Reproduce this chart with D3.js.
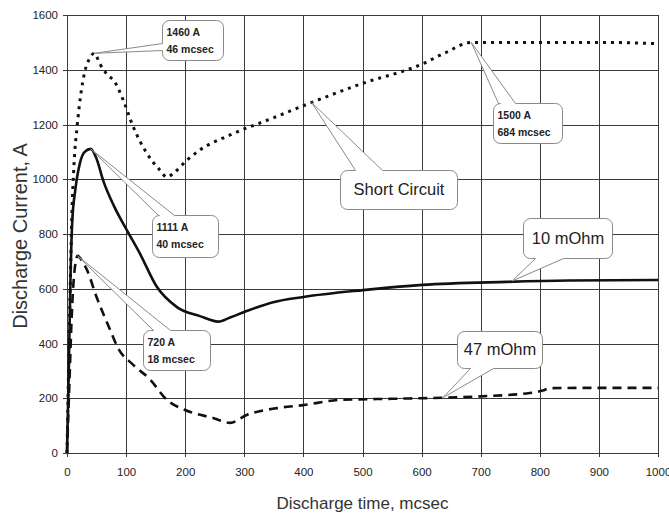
<!DOCTYPE html>
<html>
<head>
<meta charset="utf-8">
<script src="https://cdn.jsdelivr.net/npm/d3@7/dist/d3.min.js"></script>
<style>
  html, body { margin: 0; padding: 0; background: #fff; }
  svg { display: block; font-family: Arial, "Liberation Sans", sans-serif; }
</style>
</head>
<body>
<svg id="chart" width="669" height="516"></svg>
<script>
// Axis ticks
const xTicks = [0, 100, 200, 300, 400, 500, 600, 700, 800, 900, 1000];
const yTicks = [0, 200, 400, 600, 800, 1000, 1200, 1400, 1600];

// Short circuit discharge (time in mcsec, current in A)
const shortTime    = [0, 4, 8, 12, 17, 24, 30, 38, 46, 56, 67, 81, 95, 112, 135, 157, 169, 180, 203, 225, 276, 350, 411, 500, 600, 640, 684, 750, 800, 900, 1000];
const shortCurrent = [0, 450, 850, 1060, 1190, 1320, 1392, 1440, 1460, 1420, 1385, 1355, 1290, 1192, 1095, 1034, 1008, 1022, 1070, 1107, 1162, 1225, 1278, 1350, 1420, 1462, 1500, 1500, 1500, 1500, 1495];

// 10 mOhm load
const tenTime    = [0, 3, 6, 9, 14, 22, 30, 40, 50, 61, 80, 101, 123, 152, 186, 225, 256, 276, 300, 349, 400, 501, 601, 744, 850, 1000];
const tenCurrent = [0, 300, 650, 850, 960, 1060, 1100, 1111, 1075, 997, 900, 815, 730, 607, 533, 500, 480, 495, 515, 551, 570, 595, 614, 625, 630, 632];

// 47 mOhm load
const fortySevenTime    = [0, 4, 8, 12, 18, 26, 34, 50, 73, 86, 112, 140, 169, 200, 247, 276, 304, 355, 400, 462, 550, 636, 700, 783, 805, 817, 900, 1000];
const fortySevenCurrent = [0, 250, 500, 650, 720, 700, 668, 570, 450, 385, 322, 270, 194, 157, 128, 110, 139, 164, 175, 194, 198, 202, 207, 219, 228, 237, 238, 238];

// Callout texts and the curve points they refer to
const noteText    = [["1460 A", "46 mcsec"], ["1111 A", "40 mcsec"], ["720 A", "18 mcsec"], ["1500 A", "684 mcsec"], ["Short Circuit"], ["10 mOhm"], ["47 mOhm"]];
const noteTime    = [46, 40, 18, 684, 414, 753, 636];
const noteCurrent = [1460, 1111, 720, 1500, 1280, 628, 202];

// Callout box layout, relative to the point each one refers to
const noteLayout = [
  { dx: 68, dy: -33, w: 61, h: 40, side: "left",   a: 23, b: 30, big: false },
  { dx: 61, dy: 66,  w: 66, h: 42, side: "top",    a: 6,  b: 22, big: false },
  { dx: 65, dy: 74,  w: 67, h: 40, side: "top",    a: 10, b: 27, big: false },
  { dx: 22, dy: 61,  w: 69, h: 40, side: "top",    a: 5,  b: 22, big: false },
  { dx: 28, dy: 67,  w: 117, h: 39, side: "top",   a: 15, b: 42, big: true },
  { dx: 11, dy: -63, w: 89, h: 40, side: "bottom", a: 12, b: 40, big: true },
  { dx: 14, dy: -67, w: 85, h: 37, side: "bottom", a: 13, b: 36, big: true }
];

const svg = d3.select("#chart");
const margin = { top: 15, right: 11, bottom: 63, left: 67 };
const W = 669, H = 516;

const x = d3.scaleLinear().domain([0, 1000]).range([margin.left, W - margin.right]);
const y = d3.scaleLinear().domain([0, 1600]).range([H - margin.bottom, margin.top]);

// Grid
const grid = svg.append("g").attr("stroke", "#3a3a3a").attr("stroke-width", 1).attr("shape-rendering", "crispEdges");
grid.selectAll("line.v").data(xTicks).join("line")
  .attr("x1", d => Math.round(x(d)) + 0.5).attr("x2", d => Math.round(x(d)) + 0.5)
  .attr("y1", y(1600)).attr("y2", y(0) + 4);
grid.selectAll("line.h").data(yTicks).join("line")
  .attr("x1", x(0) - 4).attr("x2", x(1000))
  .attr("y1", d => Math.round(y(d)) + 0.5).attr("y2", d => Math.round(y(d)) + 0.5);

// Axes (labels only; grid lines are drawn above)
const xAxis = svg.append("g").attr("transform", `translate(0,${y(0)})`)
  .call(d3.axisBottom(x).tickValues(xTicks).tickFormat(d3.format("d")).tickSize(0).tickPadding(15));
const yAxis = svg.append("g").attr("transform", `translate(${x(0)},0)`)
  .call(d3.axisLeft(y).tickValues(yTicks).tickFormat(d3.format("d")).tickSize(0).tickPadding(9));
[xAxis, yAxis].forEach(g => {
  g.select(".domain").remove();
  g.selectAll("text").attr("fill", "#222").style("font-size", "11.5px").style("font-family", "Arial, 'Liberation Sans', sans-serif");
});

// Series
const line = d3.line().x(d => x(d[0])).y(d => y(d[1])).curve(d3.curveMonotoneX);
const series = [
  { t: shortTime, v: shortCurrent, dash: "3,5", width: 3 },
  { t: fortySevenTime, v: fortySevenCurrent, dash: "9,6", width: 2.6 },
  { t: tenTime, v: tenCurrent, dash: null, width: 2.6 }
];
series.forEach(s => {
  svg.append("path")
    .datum(d3.zip(s.t, s.v))
    .attr("fill", "none")
    .attr("stroke", "#111")
    .attr("stroke-width", s.width)
    .attr("stroke-dasharray", s.dash)
    .attr("stroke-linejoin", "round")
    .attr("d", line);
});

// Callouts: rounded box with a pointer wedge to the curve point
function calloutPath(bx, by, w, h, r, side, a, b, tx, ty) {
  const p = d3.path();
  p.moveTo(bx + r, by);
  if (side === "top") { p.lineTo(bx + a, by); p.lineTo(tx, ty); p.lineTo(bx + b, by); }
  p.lineTo(bx + w - r, by);
  p.arcTo(bx + w, by, bx + w, by + r, r);
  p.lineTo(bx + w, by + h - r);
  p.arcTo(bx + w, by + h, bx + w - r, by + h, r);
  if (side === "bottom") { p.lineTo(bx + b, by + h); p.lineTo(tx, ty); p.lineTo(bx + a, by + h); }
  p.lineTo(bx + r, by + h);
  p.arcTo(bx, by + h, bx, by + h - r, r);
  if (side === "left") { p.lineTo(bx, by + b); p.lineTo(tx, ty); p.lineTo(bx, by + a); }
  p.lineTo(bx, by + r);
  p.arcTo(bx, by, bx + r, by, r);
  p.closePath();
  return p.toString();
}

noteText.forEach((lines, i) => {
  const L = noteLayout[i];
  const tx = x(noteTime[i]), ty = y(noteCurrent[i]);
  const bx = Math.round(tx + L.dx) + 0.5, by = Math.round(ty + L.dy) + 0.5;
  const g = svg.append("g");
  g.append("path")
    .attr("d", calloutPath(bx, by, L.w, L.h, 7, L.side, L.a, L.b, tx, ty))
    .attr("fill", "#fff")
    .attr("stroke", "#8a8a8a")
    .attr("stroke-width", 1);
  if (L.big) {
    g.append("text")
      .attr("x", bx + L.w / 2).attr("y", by + L.h / 2 - 1)
      .attr("text-anchor", "middle").attr("dominant-baseline", "central")
      .attr("fill", "#222").style("font-size", "16.5px")
      .text(lines[0]);
  } else {
    lines.forEach((s, k) => {
      g.append("text")
        .attr("x", bx + 4).attr("y", by + 15 + k * 17)
        .attr("fill", "#222").style("font-size", "10.5px").style("font-weight", "bold")
        .text(s);
    });
  }
});

// Axis titles
svg.append("text")
  .attr("x", (x(0) + x(1000)) / 2).attr("y", 509)
  .attr("text-anchor", "middle").attr("fill", "#333").style("font-size", "17px")
  .text("Discharge time, mcsec");
svg.append("text")
  .attr("transform", `translate(27,236) rotate(-90)`)
  .attr("text-anchor", "middle").attr("fill", "#333").style("font-size", "20px")
  .text("Discharge Current, A");
</script>
</body>
</html>
